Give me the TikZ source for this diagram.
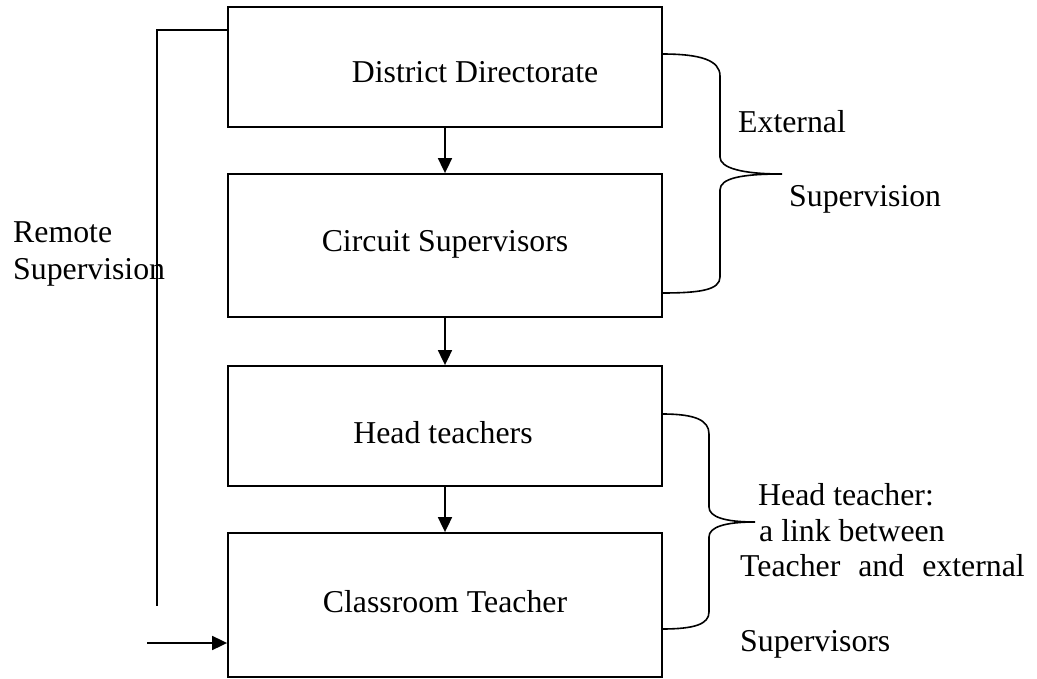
\documentclass[tikz,border=0pt]{standalone}
\usepackage{fontspec}
\setmainfont{Liberation Serif}
\usetikzlibrary{arrows.meta}
\begin{document}
\begin{tikzpicture}[x=1pt,y=-1pt,
  box/.style={draw=black, line width=1.8pt, minimum width=434pt, inner sep=0pt},
  txt/.style={inner sep=0pt, font=\fontsize{31.8}{35}\selectfont},
  arr/.style={line width=1.8pt, -{Triangle[length=15pt,width=14pt]}},
  ln/.style={line width=1.8pt},
  brace/.style={line width=1.6pt}]
\useasboundingbox (0,0) rectangle (1037,679);
% boxes
\node[box, minimum height=120pt] (dd) at (445,67) {};
\node[box, minimum height=143pt] (cs) at (445,245.5) {};
\node[box, minimum height=120pt] (ht) at (445,426) {};
\node[box, minimum height=144pt] (ct) at (445,605) {};
% box texts
\node[txt, anchor=base] (tdd) at (475,83) {District Directorate};
\node[txt, anchor=base] (tcs) at (445,252) {Circuit Supervisors};
\node[txt, anchor=base] (tht) at (443,443) {Head teachers};
\node[txt, anchor=base] (tct) at (445,612) {Classroom Teacher};
% vertical arrows
\draw[arr] (dd.south) -- (cs.north);
\draw[arr] (cs.south) -- (ht.north);
\draw[arr] (ht.south) -- (ct.north);
% remote supervision line
\coordinate (rtop) at (157,30);
\coordinate (rbot) at (157,606);
\coordinate (rin) at (147,643);
\draw[ln] (dd.west |- rtop) -- (rtop) -- (rbot);
\draw[arr] (rin) -- (ct.west |- rin);
\node[txt, anchor=base west] (rem1) at (13,243) {Remote};
\node[txt, anchor=base west] (rem2) at (13,280) {Supervision};
% brace 1
\coordinate (b1a) at (662,54);
\coordinate (b1b) at (662,293);
\draw[brace] (b1a) .. controls (700,54) and (720,60) .. (720,76)
  -- (720,157) .. controls (720,168) and (742,174) .. (782,174)
  .. controls (742,174) and (720,178) .. (720,190)
  -- (720,277) .. controls (720,290) and (700,293) .. (b1b);
\node[txt, anchor=base west] (ext1) at (738,133) {External};
\node[txt, anchor=base west] (ext2) at (789,207) {Supervision};
% brace 2
\coordinate (b2a) at (662,414);
\coordinate (b2b) at (662,629);
\draw[brace] (b2a) .. controls (695,414) and (709,420) .. (709,434)
  -- (709,507) .. controls (709,517) and (725,522) .. (755,522)
  .. controls (725,522) and (709,527) .. (709,537)
  -- (709,612) .. controls (709,624) and (695,629) .. (b2b);
\node[txt, anchor=base west] (hl1) at (758,505) {Head teacher:};
\node[txt, anchor=base west] (hl2) at (759,541) {a link between};
\node[txt, anchor=base west] (hl3) at (740,576) {Teacher\hspace{18pt}and\hspace{18pt}external};
\node[txt, anchor=base west] (hl4) at (740,651) {Supervisors};
\end{tikzpicture}
\end{document}
